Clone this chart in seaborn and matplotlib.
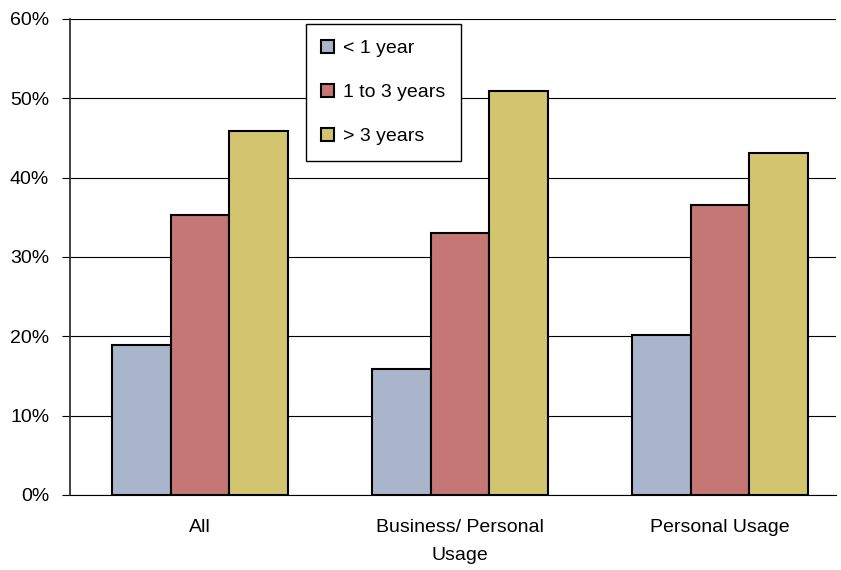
import pandas as pd
import numpy as np
import matplotlib
matplotlib.use('Agg')
import matplotlib.pyplot as plt
import seaborn as sns

# data
groups = ['All', 'Business/ Personal\nUsage', 'Personal Usage']
tenure = ['< 1 year', '1 to 3 years', '> 3 years']
less_1 = [18.9, 15.9, 20.2]
one_to_3 = [35.3, 33.0, 36.6]
more_3 = [45.9, 50.9, 43.1]
colours = ['#A9B5CA', '#C47774', '#D3C46F']

df = pd.DataFrame({
    'group': groups * 3,
    'tenure': [t for t in tenure for _ in groups],
    'pct': less_1 + one_to_3 + more_3,
})

sns.set_style('white')
plt.rcParams['font.family'] = ['Liberation Sans', 'DejaVu Sans']
plt.rcParams['text.color'] = 'black'
plt.rcParams['xtick.color'] = 'black'
plt.rcParams['ytick.color'] = 'black'
fs = 14

fig = plt.figure(figsize=(8.41, 5.70), dpi=100)
ax = fig.add_axes([0.0832, 0.1316, 0.9108, 0.8351])

sns.barplot(data=df, x='group', y='pct', hue='tenure', hue_order=tenure,
            palette=colours, width=0.677, gap=0, edgecolor='black',
            linewidth=1.5, saturation=1, ax=ax)

# plot area is cut a little before the last category boundary
ax.set_xlim(-0.5, 2.446)
ax.set_ylim(0, 60)
ax.set_yticks(np.arange(0, 61, 10))
ax.set_yticklabels([f'{v}%' for v in range(0, 61, 10)], fontsize=fs)
ax.yaxis.grid(True, color='black', linewidth=0.8)
ax.set_axisbelow(True)
ax.set_xlabel('')
ax.set_ylabel('')

# ticks on the category boundaries, labels in the middle
ax.set_xticks(range(len(groups)))
ax.set_xticklabels(groups, fontsize=fs, linespacing=1.9)
ax.set_xticks([-0.5, 0.5, 1.5], minor=True)
ax.tick_params(axis='x', which='major', length=0, pad=17)
ax.tick_params(axis='x', which='minor', length=6, width=0.8, color='black', direction='out')
ax.tick_params(axis='y', length=6, width=0.8, color='black', direction='out', left=True, pad=9)

for s in ['top', 'right']:
    ax.spines[s].set_visible(False)
ax.spines['left'].set_color('#333333')
ax.spines['left'].set_linewidth(1.3)
ax.spines['bottom'].set_color('black')
ax.spines['bottom'].set_linewidth(0.8)

leg = ax.legend(loc='upper left', bbox_to_anchor=(0.308, 0.9895), borderaxespad=0,
                fontsize=fs, frameon=True, fancybox=False, edgecolor='black',
                framealpha=1, handlelength=0.65, handleheight=0.65,
                handletextpad=0.45, labelspacing=1.38, borderpad=0.8)
leg.get_frame().set_linewidth(1.0)

fig.savefig('out.png', dpi=100)
